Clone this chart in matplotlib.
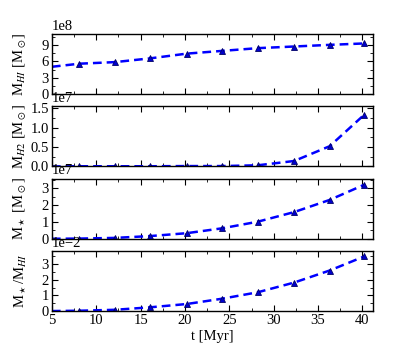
import numpy as np
import matplotlib
matplotlib.use('Agg')
import matplotlib.pyplot as plt
from matplotlib.ticker import MultipleLocator

plt.rcParams['font.family'] = 'Liberation Serif'
plt.rcParams['mathtext.fontset'] = 'stix'
plt.rcParams['font.size'] = 10.5
plt.rcParams['xtick.direction'] = 'in'
plt.rcParams['ytick.direction'] = 'in'
plt.rcParams['xtick.top'] = True
plt.rcParams['ytick.right'] = True

# time [Myr]
t = [5.0, 8.1, 12.1, 16.1, 20.2, 24.2, 28.2, 32.3, 36.3, 40.2]
# masses
m_hi = [5.0e8, 5.56e8, 5.85e8, 6.54e8, 7.4e8, 7.9e8, 8.4e8, 8.7e8, 9.0e8, 9.26e8]
m_h2 = [0, 0.005e7, 0.005e7, 0.005e7, 0.01e7, 0.01e7, 0.03e7, 0.14e7, 0.52e7, 1.33e7]
m_star = [0, 0.01e7, 0.05e7, 0.16e7, 0.33e7, 0.62e7, 1.01e7, 1.58e7, 2.3e7, 3.2e7]
ratio = [0, 0.02e-2, 0.08e-2, 0.24e-2, 0.45e-2, 0.79e-2, 1.2e-2, 1.82e-2, 2.59e-2, 3.49e-2]

series = [m_hi, m_h2, m_star, ratio]
labels = [r'M$_{HI}$ [M$_\odot$]', r'M$_{H2}$ [M$_\odot$]',
          r'M$_\star$ [M$_\odot$]', r'M$_\star$/M$_{HI}$']
ylims = [11.0e8, 1.55e7, 3.57e7, 3.85e-2]
major = [3e8, 0.5e7, 1e7, 1e-2]

fig, axes = plt.subplots(4, 1, sharex=True, figsize=(4.15, 3.46), dpi=100)
fig.subplots_adjust(left=0.125, right=0.899, top=0.902, bottom=0.101, hspace=0.2)

for ax, y, lab, ytop, step in zip(axes, series, labels, ylims, major):
    ax.plot(t, y, '--', color='b', lw=1.8, dashes=(3.5, 2),
            marker='^', ms=5, mfc='#0000cc', mec='#000066', mew=0.6,
            markevery=range(1, len(t)))
    ax.set_ylim(0, ytop)
    ax.set_xlim(5, 41.2)
    ax.yaxis.set_major_locator(MultipleLocator(step))
    ax.yaxis.set_minor_locator(MultipleLocator(step / 2))
    ax.xaxis.set_major_locator(MultipleLocator(5))
    ax.xaxis.set_minor_locator(MultipleLocator(2.5))
    ax.ticklabel_format(axis='y', style='sci', scilimits=(0, 0))
    ax.set_ylabel(lab, labelpad=2)
    ax.tick_params(which='major', length=4, width=0.8, pad=2)
    ax.tick_params(which='minor', length=2, width=0.6)
    for s in ax.spines.values():
        s.set_linewidth(1.0)

axes[-1].set_xlabel('t [Myr]', labelpad=2)
fig.align_ylabels(axes)

plt.savefig('out.png')
